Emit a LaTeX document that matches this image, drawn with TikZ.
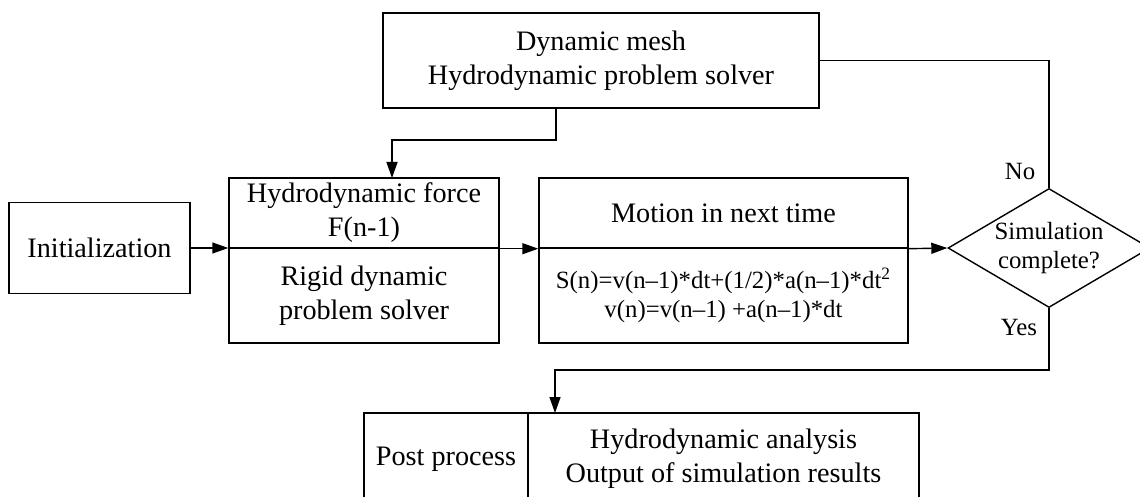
\documentclass[tikz,border=0pt]{standalone}
\usepackage{fontspec}
\setmainfont{Liberation Serif}
\usetikzlibrary{arrows.meta,shapes.geometric}
\newcommand{\mainsz}{\fontsize{14.1pt}{17pt}\selectfont}
\newcommand{\smallsz}{\fontsize{12.4pt}{14.5pt}\selectfont}
\begin{document}
\begin{tikzpicture}[x=0.5pt,y=-0.5pt,
  line width=0.7pt,
  every node/.style={font=\mainsz, align=center, inner sep=0pt},
  box/.style={draw, rectangle},
  arr/.style={-{Triangle[length=8pt,width=5.5pt]}},
  lbl/.style={font=\smallsz}]
\clip (0,0) rectangle (1140,497);

% boxes
\node[box, minimum width=218pt, minimum height=47.5pt] (top) at (601,60.5)
  {Dynamic mesh\\Hydrodynamic problem solver};
\node[box, minimum width=90.5pt, minimum height=45.5pt] (init) at (99.5,248)
  {Initialization};
\node[box, minimum width=135pt, minimum height=35pt] (hydU) at (364,213)
  {Hydrodynamic force\\F(n-1)};
\node[box, minimum width=135pt, minimum height=47.5pt] (hydL) at (364,295.5)
  {Rigid dynamic\\problem solver};
\node[box, minimum width=184.5pt, minimum height=35pt] (motU) at (723.5,213)
  {Motion in next time};
\node[box, lbl, minimum width=184.5pt, minimum height=47.5pt] (motL) at (723.5,295.5)
  {S(n)=v(n–1)*dt+(1/2)*a(n–1)*dt\textsuperscript{2}\\v(n)=v(n–1) +a(n–1)*dt};
\node[draw, diamond, minimum width=101pt, minimum height=59.5pt] (dia) at (1049,248) {};
\node[lbl] (diatext) at (dia.center) {Simulation\\complete?};
\node[box, minimum width=82pt, minimum height=46pt] (postL) at (446,459)
  {Post process};
\node[box, minimum width=195.5pt, minimum height=46pt] (postR) at (723.5,459)
  {Hydrodynamic analysis\\Output of simulation results};

% branch labels
\node[lbl] (no) at (1020,172) {No};
\node[lbl] (yes) at (1019,328) {Yes};

% connectors
\coordinate (tout) at (556,108);
\coordinate (bend1) at (556,140);
\coordinate (hin) at (392,178);
\draw[arr] (tout) -- (bend1) -| (hin);
\draw[arr] (init.east) -- (init.east -| hydU.west);
\draw[arr] (hydU.south east) -- (motU.south west);
\draw[arr] (motU.south east) -- (dia.west);
\draw (top.east) -| (dia.north);
\coordinate (ylow) at (555,370);
\coordinate (pin) at (555,413);
\draw[arr] (dia.south) |- (ylow) -- (pin);
\end{tikzpicture}
\end{document}
